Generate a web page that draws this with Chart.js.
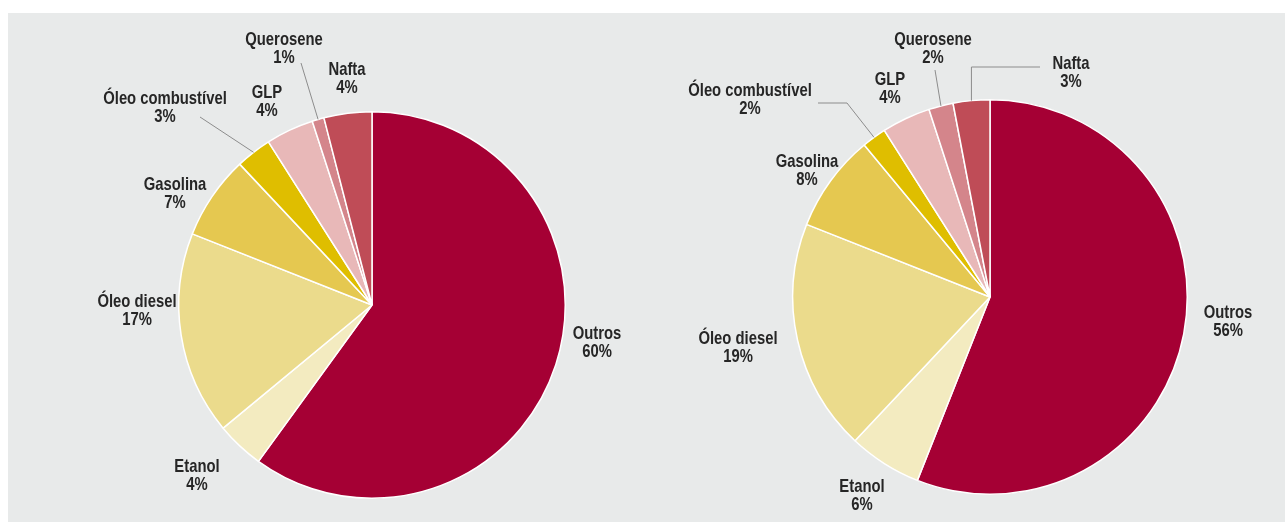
<!DOCTYPE html>
<html>
<head>
<meta charset="utf-8">
<script src="https://cdn.jsdelivr.net/npm/chart.js@4.4.1/dist/chart.umd.min.js"></script>
<style>
  html, body { margin: 0; padding: 0; background: #ffffff; }
  #page { position: relative; width: 1285px; height: 522px; overflow: hidden; }
  #panel { position: absolute; left: 8px; top: 13px; right: 0; bottom: 0; background: #e8eaea; }
  canvas { position: absolute; top: 0; }
  #left { left: 0; }
  #right { left: 640px; }
</style>
</head>
<body>
<div id="page">
  <div id="panel"></div>
  <canvas id="left" width="640" height="522"></canvas>
  <canvas id="right" width="645" height="522"></canvas>
</div>
<script>
// categories, clockwise from 12 o'clock
const categories = ['Outros', 'Etanol', 'Óleo diesel', 'Gasolina', 'Óleo combustível', 'GLP', 'Querosene', 'Nafta'];
const valuesLeft = [60, 4, 17, 7, 3, 4, 1, 4];
const valuesRight = [56, 6, 19, 8, 2, 4, 2, 3];

const sliceColors = ['#a50034', '#f3ebc0', '#ebdb8c', '#e5c850', '#dfbe00', '#e8b8b8', '#d4858b', '#bf4c57'];

// label placement relative to the pie centre (first line centre)
const labelPosLeft = [[225, 29], [-175, 162], [-235, -3], [-197, -120], [-207, -206], [-105, -212], [-88, -265], [-25, -235]];
const labelPosRight = [[238, 16], [-128, 190], [-252, 42], [-183, -135], [-240, -206], [-100, -217], [-57, -257], [81, -233]];

// leader lines: points relative to the centre, then ending on the slice edge
const leadersLeft = { 4: [[-172, -188]], 6: [[-71, -242]] };
const leadersRight = { 4: [[-172, -194], [-143, -194]], 6: [[-55, -227]], 7: [[50, -230], ['arc', -230]] };

// the original uses a condensed face, so squeeze the text a little
function drawText(ctx, text, x, y) {
  ctx.save();
  ctx.translate(x, y);
  ctx.scale(0.78, 1);
  ctx.fillText(text, 0, 0);
  ctx.restore();
}

const labelPlugin = {
  id: 'sliceLabels',
  afterDraw(chart, args, opts) {
    const ctx = chart.ctx;
    const meta = chart.getDatasetMeta(0);
    const values = chart.data.datasets[0].data;
    ctx.save();
    meta.data.forEach((arc, i) => {
      const cx = arc.x, cy = arc.y;
      const mid = (arc.startAngle + arc.endAngle) / 2;
      const ex = cx + Math.cos(mid) * arc.outerRadius;
      const ey = cy + Math.sin(mid) * arc.outerRadius;
      const lead = opts.leaders[i];
      if (lead) {
        ctx.strokeStyle = '#8c8c8c';
        ctx.lineWidth = 1;
        ctx.beginPath();
        lead.forEach((p, k) => {
          const px = p[0] === 'arc' ? ex : cx + p[0];
          const py = cy + p[1];
          if (k === 0) ctx.moveTo(px, py); else ctx.lineTo(px, py);
        });
        ctx.lineTo(ex, ey);
        ctx.stroke();
      }
      const pos = opts.positions[i];
      ctx.fillStyle = '#262626';
      ctx.font = 'bold 19px "Liberation Sans", Arial, sans-serif';
      ctx.textAlign = 'center';
      ctx.textBaseline = 'middle';
      drawText(ctx, chart.data.labels[i], cx + pos[0], cy + pos[1]);
      drawText(ctx, values[i] + '%', cx + pos[0], cy + pos[1] + 18);
    });
    ctx.restore();
  }
};

function makePie(id, values, padding, positions, leaders) {
  return new Chart(document.getElementById(id), {
    type: 'pie',
    data: {
      labels: categories,
      datasets: [{
        data: values,
        backgroundColor: sliceColors,
        borderColor: '#ffffff',
        borderWidth: 1.5
      }]
    },
    options: {
      responsive: false,
      animation: false,
      layout: { padding: padding },
      plugins: {
        legend: { display: false },
        tooltip: { enabled: false },
        sliceLabels: { positions: positions, leaders: leaders }
      }
    },
    plugins: [labelPlugin]
  });
}

makePie('left', valuesLeft, { left: 178, right: 74, top: 111, bottom: 23 }, labelPosLeft, leadersLeft);
makePie('right', valuesRight, { left: 152, right: 97, top: 99, bottom: 27 }, labelPosRight, leadersRight);
</script>
</body>
</html>
